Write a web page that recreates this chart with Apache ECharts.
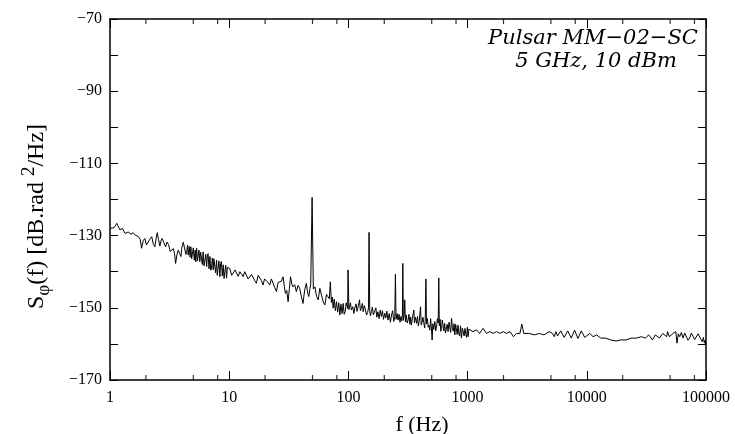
<!DOCTYPE html>
<html>
<head>
<meta charset="utf-8">
<script src="https://cdn.jsdelivr.net/npm/echarts@6/dist/echarts.min.js"></script>
<style>
  html, body { margin: 0; padding: 0; background: #fff; }
  #chart { width: 735px; height: 434px; }
</style>
</head>
<body>
<div id="chart"></div>
<script>
// phase noise: [frequency (Hz), S_phi (dB.rad^2/Hz)]
const band1to10 = [
  [1.00, -128.0], [1.03, -127.5], [1.08, -127.8], [1.14, -126.6], [1.21, -128.4], [1.27, -128.0],
  [1.34, -129.4], [1.42, -129.0], [1.50, -129.6], [1.56, -129.2], [1.62, -129.8], [1.68, -129.5],
  [1.73, -130.3], [1.79, -131.0], [1.84, -133.5], [1.90, -131.4], [1.96, -130.8], [2.02, -132.6],
  [2.09, -133.1], [2.16, -131.0], [2.24, -130.3], [2.31, -132.4], [2.38, -133.1], [2.44, -130.6],
  [2.49, -129.2], [2.55, -131.0], [2.62, -132.9], [2.68, -131.4], [2.74, -130.8], [2.83, -132.0],
  [2.93, -133.1], [3.01, -131.8], [3.10, -132.5], [3.20, -134.4], [3.29, -134.0], [3.40, -133.6],
  [3.48, -135.0], [3.55, -137.7], [3.65, -135.2], [3.74, -134.0], [3.84, -135.0], [3.94, -135.8],
  [4.00, -133.5], [4.12, -131.8], [4.25, -132.1], [4.33, -135.2], [4.40, -134.6], [4.47, -132.6],
  [4.53, -135.4], [4.62, -133.0], [4.70, -136.0], [4.77, -133.1], [4.84, -136.4], [4.90, -136.0],
  [5.00, -133.4], [5.09, -136.8], [5.18, -134.0], [5.25, -137.3], [5.33, -133.5], [5.42, -137.0],
  [5.50, -136.5], [5.58, -134.0], [5.67, -137.2], [5.76, -134.6], [5.85, -134.2], [5.95, -138.0],
  [6.05, -134.5], [6.15, -138.4], [6.25, -138.2], [6.36, -135.2], [6.47, -138.6], [6.56, -135.6],
  [6.65, -135.0], [6.77, -139.2], [6.89, -135.8], [7.00, -139.6], [7.10, -139.0], [7.22, -136.2],
  [7.34, -139.5], [7.44, -136.4], [7.55, -136.0], [7.69, -140.3], [7.83, -136.8], [7.94, -141.0],
  [8.05, -140.5], [8.20, -137.0], [8.35, -141.4], [8.47, -137.8], [8.60, -137.2], [8.75, -141.2],
  [8.91, -138.1], [9.05, -141.9], [9.20, -141.6], [9.35, -138.2], [9.50, -141.8], [9.65, -138.8],
  [9.80, -138.6]
];
const band10to100 = [
  [10.1, -139.1], [10.5, -141.0], [10.8, -140.4], [11.2, -139.5], [11.5, -139.8], [11.9, -141.3],
  [12.3, -140.0], [12.7, -139.9], [13.1, -141.4], [13.5, -140.0], [14.0, -140.4], [14.4, -142.0],
  [14.9, -142.3], [15.4, -140.8], [15.9, -140.4], [16.4, -142.5], [16.9, -143.2], [17.5, -141.0],
  [18.1, -140.9], [18.6, -142.4], [19.2, -143.7], [19.8, -142.0], [20.5, -141.8], [21.2, -143.0],
  [21.9, -143.7], [22.6, -142.0], [23.3, -141.8], [24.1, -144.4], [24.9, -145.5], [25.7, -143.0],
  [26.6, -143.2], [27.4, -142.6], [28.3, -141.4], [29.0, -144.0], [29.6, -146.0], [30.4, -145.2],
  [31.2, -148.3], [32.0, -144.6], [32.7, -141.4], [33.5, -143.4], [34.3, -144.2], [35.4, -143.6],
  [36.6, -145.5], [37.8, -143.8], [39.0, -144.6], [40.3, -146.8], [41.6, -148.8], [43.0, -145.0],
  [44.4, -143.2], [45.4, -145.6], [46.5, -146.9], [47.4, -145.0], [48.3, -143.5], [49.6, -119.4],
  [50.8, -144.8], [52.3, -144.2], [54.0, -146.8], [55.8, -147.8], [57.6, -144.6], [59.5, -145.1],
  [61.5, -148.4], [63.5, -149.2], [65.5, -146.3], [67.7, -146.0], [69.2, -147.5], [70.5, -142.8],
  [72.0, -148.5], [73.2, -147.0], [74.5, -150.1], [76.0, -147.6], [77.7, -150.8], [79.4, -148.3],
  [81.2, -151.2], [83.0, -148.6], [84.8, -152.0], [86.6, -149.0], [88.5, -151.6], [90.4, -148.8],
  [92.2, -151.8], [94.0, -151.1], [95.8, -148.6], [97.5, -149.0], [98.6, -150.2], [99.3, -139.5]
];
const band100to1000 = [
  [101, -150.5], [104, -148.6], [106, -150.6], [109, -149.7], [111, -151.6], [113, -150.1],
  [116, -148.9], [118, -151.0], [121, -149.5], [124, -147.8], [126, -150.8], [128, -150.2],
  [131, -148.8], [133, -151.1], [136, -149.4], [139, -150.6], [142, -152.0], [145, -151.3],
  [147.5, -150.0], [149, -129.1], [151, -150.8], [153, -152.2], [156, -151.1], [159, -149.8],
  [162, -152.0], [166, -151.5], [170, -150.0], [173, -152.6], [177, -151.1], [181, -153.0],
  [185, -150.6], [189, -152.4], [193, -150.8], [197, -153.2], [202, -151.5], [206, -152.8],
  [210, -150.9], [215, -153.4], [220, -151.6], [225, -154.0], [230, -152.0], [235, -150.8],
  [240, -153.8], [245, -152.5], [248, -140.7], [251, -153.2], [256, -151.6], [261, -153.4],
  [266, -151.8], [271, -154.0], [276, -152.4], [280, -153.6], [284, -152.0], [286, -137.7],
  [289, -153.5], [293, -152.2], [297, -147.8], [301, -153.9], [306, -152.0], [311, -154.2],
  [317, -153.4], [322, -151.8], [328, -154.6], [333, -152.6], [338, -154.8], [344, -153.0],
  [350, -152.8], [354, -150.6], [358, -154.2], [365, -152.6], [373, -154.3], [380, -152.4],
  [386, -155.0], [393, -153.6], [400, -153.2], [403, -149.7], [408, -154.8], [415, -154.0],
  [422, -152.6], [430, -154.3], [436, -155.6], [441, -153.8], [447, -142.0], [452, -154.5],
  [460, -153.0], [467, -155.4], [474, -154.8], [482, -156.2], [490, -153.0], [497, -155.6],
  [504, -158.9], [511, -154.4], [520, -156.0], [531, -153.8], [540, -156.4], [550, -155.0],
  [558, -153.0], [567, -154.2], [573, -141.7], [579, -155.0], [588, -153.2], [596, -156.5],
  [605, -155.7], [613, -153.4], [622, -153.6], [632, -156.4], [642, -154.3], [652, -157.0],
  [663, -157.2], [674, -154.6], [686, -156.6], [698, -154.0], [710, -153.8], [721, -156.8],
  [733, -152.9], [745, -155.4], [758, -156.5], [770, -154.4], [782, -157.5], [794, -154.6],
  [806, -154.2], [818, -157.4], [830, -154.8], [843, -157.0], [858, -157.8], [872, -155.0],
  [888, -158.4], [904, -155.6], [920, -155.2], [935, -157.8], [950, -155.7], [965, -157.2],
  [980, -158.2], [995, -155.4]
];
const band1kto100k = [
  [1010, -158.0], [1025, -155.9], [1040, -155.7], [1110, -156.6], [1190, -156.1], [1260, -157.1],
  [1350, -155.7], [1440, -157.1], [1530, -156.6], [1640, -157.1], [1750, -156.6], [1860, -157.1],
  [1990, -156.6], [2120, -157.1], [2270, -156.6], [2420, -158.0], [2580, -157.1], [2750, -157.1],
  [2850, -154.5], [2960, -157.1], [3300, -157.1], [3630, -157.5], [4000, -157.1], [4370, -157.5],
  [4840, -156.6], [5160, -157.1], [5330, -158.0], [5500, -156.6], [5680, -157.8], [5850, -158.0],
  [6050, -156.4], [6250, -156.1], [6460, -158.2], [6690, -158.4], [6920, -156.4], [7150, -156.1],
  [7400, -158.4], [7650, -158.0], [7900, -156.2], [8140, -156.6], [8420, -158.5], [8700, -158.0],
  [9000, -156.4], [9300, -156.6], [9600, -158.2], [9900, -158.0], [10600, -157.1], [11300, -158.0],
  [12100, -157.5], [13100, -158.4], [14400, -158.4], [15900, -158.9], [17600, -159.2], [19300, -158.9],
  [21400, -158.9], [23600, -158.4], [26000, -158.4], [28700, -158.0], [30900, -158.4], [33100, -157.5],
  [35500, -158.9], [37600, -157.5], [40700, -158.4], [43400, -157.1], [46700, -158.0], [47600, -156.6],
  [49200, -158.0], [53000, -157.1], [55800, -156.6], [57100, -159.8], [58600, -157.2], [60200, -158.0],
  [62200, -156.8], [64200, -158.4], [66300, -157.0], [68500, -157.5], [70700, -159.0], [73000, -158.4],
  [75400, -157.0], [77900, -157.1], [80400, -158.8], [83100, -158.4], [85800, -157.2], [88600, -157.5],
  [90800, -158.8], [93000, -159.4], [95000, -158.2], [97000, -159.8], [98500, -159.0], [100000, -160.3]
];
// minor tick positions on the frequency axis
const minorTickFreqs = [2, 5, 8, 20, 50, 80, 200, 500, 800, 2000, 5000, 8000, 20000, 50000, 80000];

const chart = echarts.init(document.getElementById('chart'));
const serif = 'Liberation Serif';
const minus = v => String(v).replace('-', '\u2212');

const lineData = band1to10.concat(band10to100, band100to1000, band1kto100k);
const bottomTicks = minorTickFreqs.map(f => [f, -170]);
const topTicks = minorTickFreqs.map(f => [f, -70]);

const axisLine = { lineStyle: { color: '#000', width: 1.5 } };

const option = {
  animation: false,
  grid: { left: 110, right: 29, top: 19, bottom: 54, containLabel: false, outerBoundsMode: 'none' },
  xAxis: [
    {
      type: 'log', logBase: 10, min: 1, max: 100000,
      name: 'f (Hz)', nameLocation: 'middle', nameGap: 34,
      nameTextStyle: { fontFamily: serif, fontSize: 22, color: '#000', padding: [0, 0, 0, 28] },
      axisLine: axisLine,
      axisTick: { inside: true, length: 9, lineStyle: { color: '#000' } },
      minorTick: { show: false },
      axisLabel: { fontFamily: serif, fontSize: 16, color: '#000', margin: 10, formatter: v => String(v) },
      splitLine: { show: false }
    },
    {
      type: 'log', logBase: 10, min: 1, max: 100000, position: 'top',
      axisLine: axisLine,
      axisTick: { inside: true, length: 9, lineStyle: { color: '#000' } },
      axisLabel: { show: false },
      splitLine: { show: false }
    }
  ],
  yAxis: [
    {
      type: 'value', min: -170, max: -70, interval: 20,
      name: 'S{sub|\u03c6}(f) [dB.rad {sup|2}/Hz]',
      nameLocation: 'middle', nameGap: 56,
      nameTextStyle: {
        fontFamily: serif, fontSize: 24, color: '#000', lineHeight: 34,
        padding: [0, 34, 0, 0],
        rich: {
          sub: { fontFamily: serif, fontSize: 19, verticalAlign: 'bottom', lineHeight: 34 },
          sup: { fontFamily: serif, fontSize: 19, verticalAlign: 'top', lineHeight: 34 }
        }
      },
      axisLine: axisLine,
      axisTick: { inside: true, length: 8, lineStyle: { color: '#000' } },
      minorTick: { show: true, splitNumber: 2, length: 8, lineStyle: { color: '#000' } },
      axisLabel: { fontFamily: serif, fontSize: 16, color: '#000', margin: 8, formatter: minus },
      splitLine: { show: false }
    },
    {
      type: 'value', min: -170, max: -70, interval: 20, position: 'right',
      axisLine: axisLine,
      axisTick: { inside: true, length: 8, lineStyle: { color: '#000' } },
      minorTick: { show: true, splitNumber: 2, length: 8, lineStyle: { color: '#000' } },
      axisLabel: { show: false },
      splitLine: { show: false }
    }
  ],
  graphic: [
    {
      type: 'text', x: 593, y: 39,
      style: {
        text: 'Pulsar MM\u221202\u2212SC',
        font: 'italic 21px "DejaVu Serif"', fill: '#000',
        textAlign: 'center', textVerticalAlign: 'middle'
      }
    },
    {
      type: 'text', x: 596, y: 62,
      style: {
        text: '5 GHz, 10 dBm',
        font: 'italic 21px "DejaVu Serif"', fill: '#000',
        textAlign: 'center', textVerticalAlign: 'middle'
      }
    }
  ],
  series: [
    {
      type: 'line', xAxisIndex: 0, yAxisIndex: 0,
      data: lineData, showSymbol: false, symbol: 'none',
      lineStyle: { color: '#000', width: 1 },
      clip: true
    },
    {
      type: 'scatter', xAxisIndex: 0, yAxisIndex: 0,
      data: bottomTicks, symbol: 'rect', symbolSize: [1.2, 5], symbolOffset: [0, -2.5],
      itemStyle: { color: '#000' }, clip: false, silent: true
    },
    {
      type: 'scatter', xAxisIndex: 0, yAxisIndex: 0,
      data: topTicks, symbol: 'rect', symbolSize: [1.2, 5], symbolOffset: [0, 2.5],
      itemStyle: { color: '#000' }, clip: false, silent: true
    }
  ]
};
chart.setOption(option);
</script>
</body>
</html>
